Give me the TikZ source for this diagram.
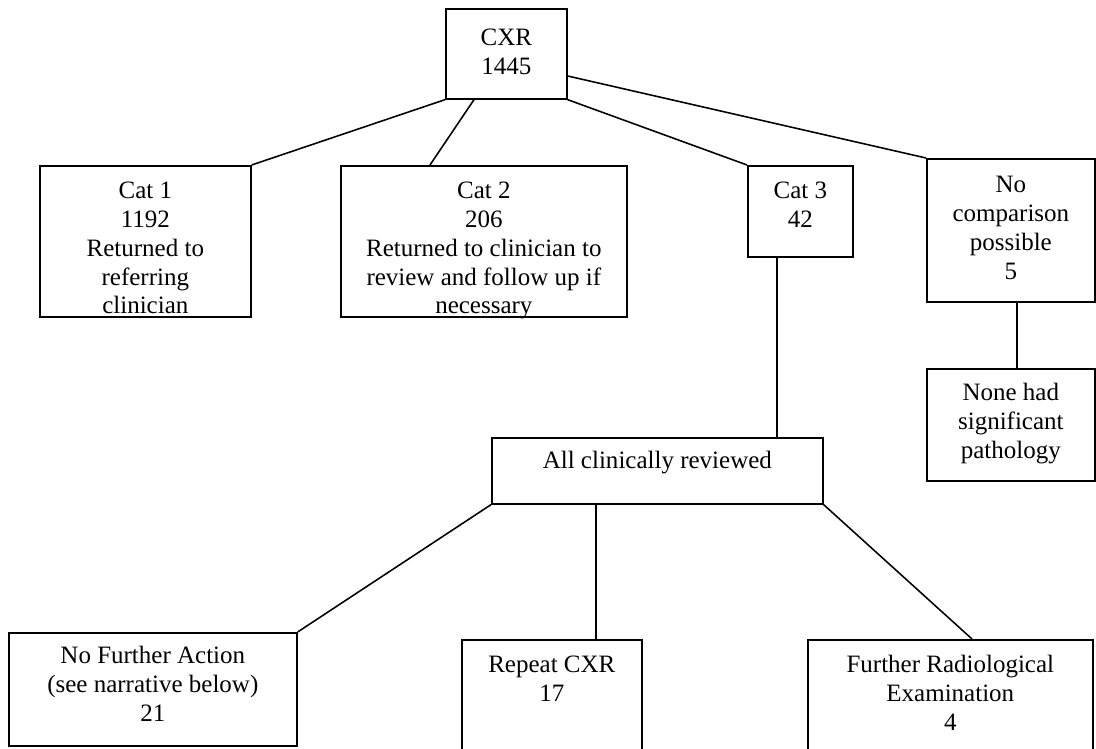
\documentclass[tikz,border=0pt]{standalone}
\usepackage{fontspec}
\setmainfont{Liberation Serif}
\usetikzlibrary{calc}
\newdimen\pxu \pxu=0.48pt
\newcommand{\boxtext}[4]{\parbox[c][#2\pxu][t]{#1\pxu}{\centering\vspace*{#3\pxu}\strut #4}}
\begin{document}
\begin{tikzpicture}[x=0.48pt,y=-0.48pt,
  font=\fontsize{12}{13.8}\selectfont,
  box/.style={draw,line width=0.8pt,inner sep=0pt,anchor=north west},
  link/.style={line width=0.75pt}]
\clip (0,0) rectangle (1096,749);
\fill[white] (0,0) rectangle (1096,749);
\node[box] (cxr) at (445,8) {\boxtext{121}{90}{17}{CXR\\1445}};
\node[box] (cat1) at (39,165) {\boxtext{211}{151}{13}{Cat 1\\1192\\Returned to\\referring\\clinician}};
\node[box] (cat2) at (340,165) {\boxtext{286}{151}{13}{Cat 2\\206\\Returned to clinician to\\review and follow up if\\necessary}};
\node[box] (cat3) at (747,165) {\boxtext{105}{91}{13}{Cat 3\\42}};
\node[box] (nocomp) at (926,158) {\boxtext{168}{143}{14}{No\\comparison\\possible\\5}};
\node[box] (nonehad) at (926,368) {\boxtext{168}{112}{12}{None had\\significant\\pathology}};
\node[box] (all) at (491,437) {\boxtext{331}{66}{11}{All clinically reviewed}};
\node[box] (nofurther) at (8,632) {\boxtext{288}{113}{11}{No Further Action\\(see narrative below)\\21}};
\node[box] (repeat) at (461,639) {\boxtext{180}{121}{13}{Repeat CXR\\17}};
\node[box] (further) at (807,639) {\boxtext{285}{121}{13}{Further Radiological\\Examination\\4}};
\draw[link] (cxr.south west) -- (cat1.north east);
\draw[link] ($(cxr.south west)+(29,0)$) -- ($(cat2.north west)+(90,0)$);
\draw[link] (cxr.south east) -- (cat3.north west);
\draw[link] ($(cxr.north east)+(0,68)$) -- (nocomp.north west);
\draw[link] ($(cat3.south west)+(30,0)$) coordinate (c3) -- (c3 |- all.north);
\draw[link] ($(nocomp.south west)+(91,0)$) coordinate (nc) -- (nc |- nonehad.north);
\draw[link] (all.south west) -- (nofurther.north east);
\draw[link] ($(all.south west)+(105,0)$) coordinate (ar) -- (ar |- repeat.north);
\draw[link] (all.south east) -- ($(further.north west)+(165,0)$);
\end{tikzpicture}
\end{document}
